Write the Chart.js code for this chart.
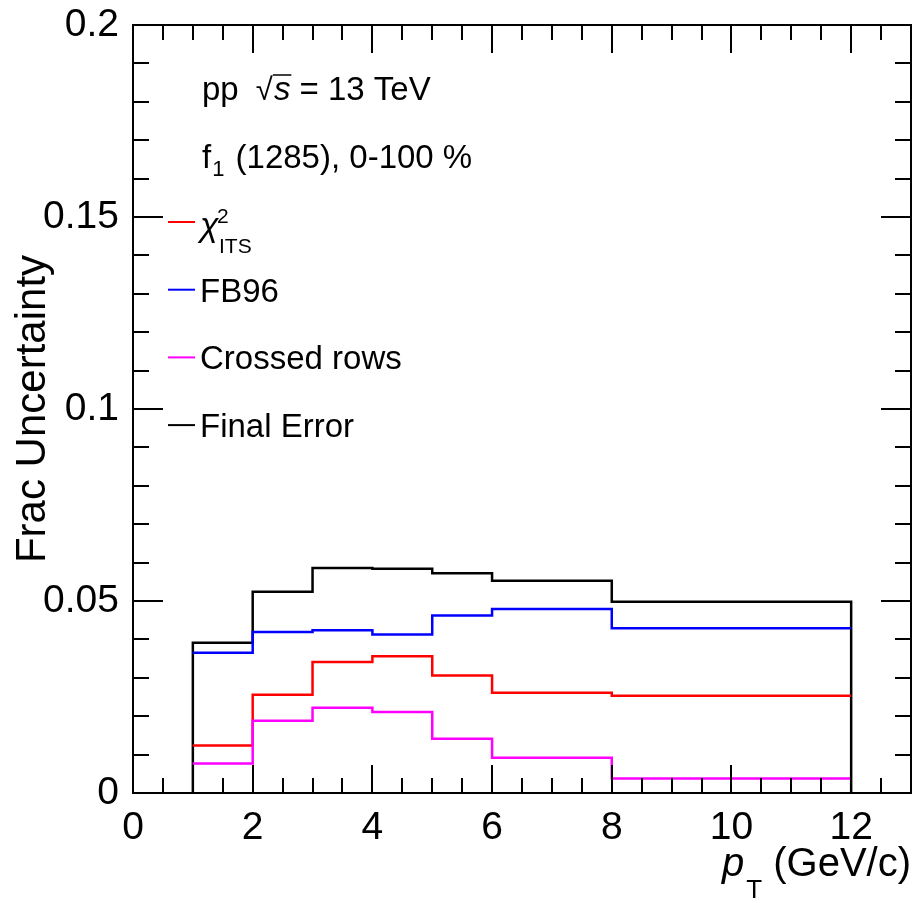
<!DOCTYPE html>
<html lang="en">
<head>
<meta charset="UTF-8" />
<title>Frac Uncertainty</title>
<script src="https://cdn.jsdelivr.net/npm/chart.js"></script>
<style>
html, body { margin: 0; padding: 0; background: white; }
.grafica { width: 917px; height: 903px; }
</style>
</head>
<body>
<div class="grafica">
<canvas id="myChart" width="917" height="903"></canvas>
</div>
<script>
// bin edges in pT (GeV/c) and the fractional uncertainty per bin
const binEdges = [1, 2, 3, 4, 5, 6, 8, 12];
const chi2Its = [0.0124, 0.0256, 0.0341, 0.0356, 0.0306, 0.0261, 0.0253];
const fb96 = [0.0365, 0.0419, 0.0424, 0.0413, 0.0462, 0.0479, 0.0429];
const crossedRows = [0.0077, 0.0188, 0.0222, 0.0211, 0.0141, 0.0092, 0.0038];
const finalError = [0.0391, 0.0524, 0.0586, 0.0584, 0.0572, 0.0553, 0.0498];

const xTicks = [0, 2, 4, 6, 8, 10, 12];
const yTicks = [0, 0.05, 0.1, 0.15, 0.2];
const yTickLabels = ["0", "0.05", "0.1", "0.15", "0.2"];

const FONT = "'Liberation Sans', Arial, Helvetica, sans-serif";

// histogram outline: horizontal at each bin value, vertical steps at the edges
function histPoints(values, toZero) {
  const last = binEdges.length - 1;
  const pts = [];
  if (toZero) pts.push({ x: binEdges[0], y: 0 });
  values.forEach((v, i) => pts.push({ x: binEdges[i], y: v }));
  pts.push({ x: binEdges[last], y: values[values.length - 1] });
  if (toZero) pts.push({ x: binEdges[last], y: 0 });
  return pts;
}

const legendItems = [
  { color: "#ff0000" },
  { color: "#0000ff", text: "FB96" },
  { color: "#ff00ff", text: "Crossed rows" },
  { color: "#000000", text: "Final Error" }
];

const datasets = [
  { label: "Final Error", data: histPoints(finalError, true), borderColor: "#000000", order: 4 },
  { label: "chi2 ITS", data: histPoints(chi2Its, false), borderColor: "#ff0000", order: 3 },
  { label: "FB96", data: histPoints(fb96, false), borderColor: "#0000ff", order: 2 },
  { label: "Crossed rows", data: histPoints(crossedRows, false), borderColor: "#ff00ff", order: 1 }
].map((d) => Object.assign(d, {
  stepped: "before",
  borderWidth: 2.5,
  pointRadius: 0,
  fill: false,
  tension: 0
}));

function runText(ctx, x, y, runs) {
  runs.forEach((r) => {
    ctx.font = r.font;
    ctx.fillText(r.text, x, y + (r.dy || 0));
    x += ctx.measureText(r.text).width + (r.gap || 0);
  });
  return x;
}

// ROOT-like frame with inner ticks on all four sides
const frameTicks = {
  id: "frameTicks",
  afterDatasetsDraw(chart) {
    const { ctx, chartArea: a, scales } = chart;
    const xs = scales.x, ys = scales.y;
    ctx.save();
    ctx.strokeStyle = "#000";
    ctx.lineWidth = 2;
    ctx.strokeRect(a.left, a.top, a.right - a.left, a.bottom - a.top);
    ctx.beginPath();
    for (let i = 0; i <= Math.round((xs.max - xs.min) / 0.5); i++) {
      const v = xs.min + i * 0.5;
      const px = Math.round(xs.getPixelForValue(v));
      const len = xTicks.includes(v) ? 28 : 15;
      ctx.moveTo(px, a.bottom); ctx.lineTo(px, a.bottom - len);
      ctx.moveTo(px, a.top); ctx.lineTo(px, a.top + len);
    }
    for (let i = 0; i <= Math.round((ys.max - ys.min) / 0.01); i++) {
      const v = ys.min + i * 0.01;
      const py = Math.round(ys.getPixelForValue(v));
      const len = i % 5 === 0 ? 30 : 16;
      ctx.moveTo(a.left, py); ctx.lineTo(a.left + len, py);
      ctx.moveTo(a.right, py); ctx.lineTo(a.right - len, py);
    }
    ctx.stroke();
    ctx.restore();
  },
  afterDraw(chart) {
    const { ctx, chartArea: a } = chart;
    ctx.save();
    ctx.fillStyle = "#000";
    ctx.textBaseline = "alphabetic";
    ctx.textAlign = "left";

    // axis titles
    ctx.save();
    ctx.translate(45, (a.top + a.bottom) / 2);
    ctx.rotate(-Math.PI / 2);
    ctx.textAlign = "center";
    ctx.font = "42px " + FONT;
    ctx.fillText("Frac Uncertainty", 0, 0);
    ctx.restore();

    ctx.font = "40px " + FONT;
    const unitW = ctx.measureText(" (GeV/c)").width;
    ctx.font = "26px " + FONT;
    const subW = ctx.measureText("T").width;
    ctx.font = "italic 40px " + FONT;
    const pW = ctx.measureText("p").width;
    let tx = 909 - unitW - subW - pW;
    runText(ctx, tx, 876, [
      { text: "p", font: "italic 40px " + FONT, gap: 2 },
      { text: "T", font: "26px " + FONT, dy: 22 },
      { text: " (GeV/c)", font: "40px " + FONT }
    ]);

    // collision system text
    let x = runText(ctx, 202, 100, [
      { text: "pp ", font: "33px " + FONT, gap: 8 },
      { text: "\u221A", font: "31px " + FONT, gap: 1 }
    ]);
    ctx.font = "italic 33px " + FONT;
    const sW = ctx.measureText("s").width;
    ctx.fillText("s", x, 100);
    ctx.beginPath();
    ctx.lineWidth = 1.5;
    ctx.moveTo(x - 1, 75);
    ctx.lineTo(x + sW + 1, 75);
    ctx.stroke();
    runText(ctx, x + sW, 100, [{ text: " = 13 TeV", font: "33px " + FONT }]);

    runText(ctx, 202, 168, [
      { text: "f", font: "33px " + FONT, gap: 1 },
      { text: "1", font: "22px " + FONT, dy: 8, gap: 2 },
      { text: " (1285), 0-100 %", font: "33px " + FONT }
    ]);

    // legend
    legendItems.forEach((item, i) => {
      const ly = 222 + i * 67.7;
      ctx.strokeStyle = item.color;
      ctx.lineWidth = 2;
      ctx.beginPath();
      ctx.moveTo(168, ly);
      ctx.lineTo(195, ly);
      ctx.stroke();
      if (item.text) {
        ctx.font = "33px " + FONT;
        ctx.fillText(item.text, 200, ly + 12);
      } else {
        ctx.font = "italic 34px " + FONT;
        ctx.fillText("\u03C7", 200, ly + 14);
        ctx.font = "21px " + FONT;
        ctx.fillText("2", 217, ly + 1);
        ctx.fillText("ITS", 219, ly + 31);
      }
    });
    ctx.restore();
  }
};

const config = {
  type: "line",
  data: { datasets },
  options: {
    responsive: false,
    animation: false,
    events: [],
    layout: { padding: { top: 25, right: 6, left: 0, bottom: 0 } },
    plugins: { legend: { display: false }, tooltip: { enabled: false } },
    scales: {
      x: {
        type: "linear",
        min: 0,
        max: 13,
        afterBuildTicks: (s) => { s.ticks = xTicks.map((v) => ({ value: v })); },
        afterFit: (s) => {
          s.height = 110;
          s.paddingLeft = 0;
          s.paddingRight = 0;
        },
        grid: { display: false, drawTicks: false },
        border: { display: false },
        ticks: {
          padding: 12,
          color: "#000",
          font: { family: FONT, size: 39 },
          maxRotation: 0,
          callback: (v) => String(v)
        }
      },
      y: {
        type: "linear",
        min: 0,
        max: 0.2,
        afterBuildTicks: (s) => { s.ticks = yTicks.map((v) => ({ value: v })); },
        afterFit: (s) => {
          s.width = 133;
          s.paddingTop = 0;
          s.paddingBottom = 0;
        },
        grid: { display: false, drawTicks: false },
        border: { display: false },
        ticks: {
          padding: 14,
          color: "#000",
          font: { family: FONT, size: 39 },
          callback: (v, i) => yTickLabels[i]
        }
      }
    }
  },
  plugins: [frameTicks]
};

const myChart = document.getElementById("myChart");
myChart.style.backgroundColor = "white";
new Chart(myChart, config);
</script>
</body>
</html>
